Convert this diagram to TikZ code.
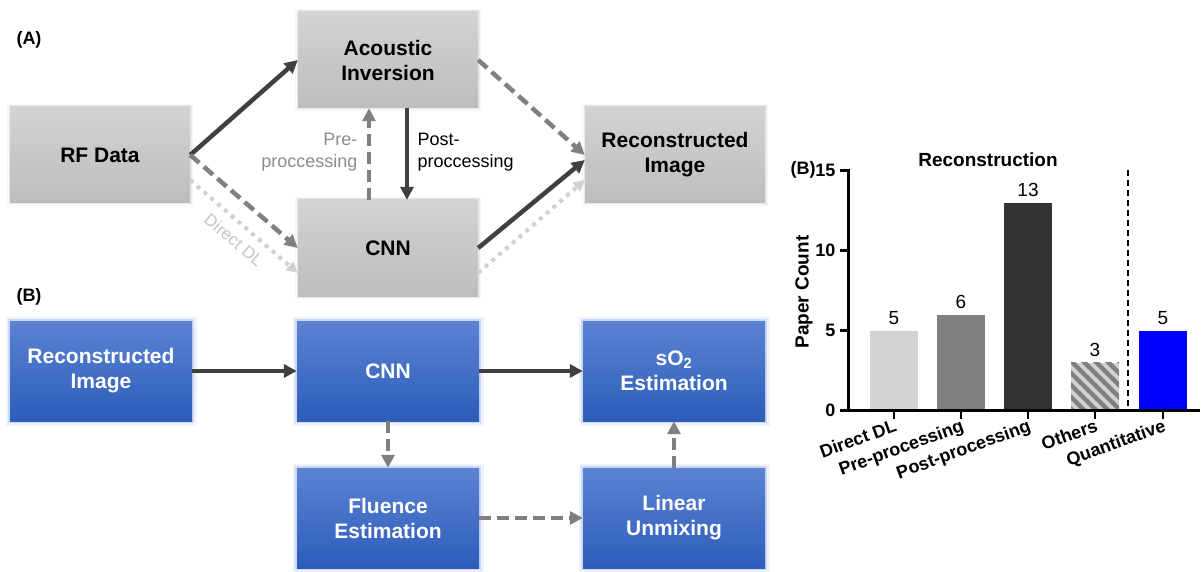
\documentclass[tikz,border=0pt]{standalone}
\usepackage{fontspec}
\setmainfont{Liberation Sans}
\usetikzlibrary{arrows.meta}

\definecolor{boxtop}{HTML}{D3D3D3}
\definecolor{boxbot}{HTML}{BDBDBD}
\definecolor{boxglow}{HTML}{CACACA}
\definecolor{bluetop}{HTML}{5B83D3}
\definecolor{bluebot}{HTML}{2C5CBA}
\definecolor{blueglow}{HTML}{8FAAE2}
\definecolor{arrdark}{HTML}{404040}
\definecolor{arrgray}{HTML}{808080}
\definecolor{dotgray}{HTML}{D0D0D0}
\definecolor{lblgray}{HTML}{8C8C8C}
\definecolor{barlight}{HTML}{D3D3D3}
\definecolor{barmid}{HTML}{808080}
\definecolor{bardark}{HTML}{333333}
\definecolor{barblue}{HTML}{0000FF}

\begin{document}
\begin{tikzpicture}[x=1pt,y=-1pt,
  graybox/.style={rectangle, minimum width=180pt, minimum height=96pt, inner sep=0pt,
    align=center, top color=boxtop, bottom color=boxbot,
    preaction={draw=boxglow, line width=6pt, draw opacity=0.15},
    preaction={draw=boxglow, line width=3pt, draw opacity=0.3},
    font=\fontsize{21}{25}\selectfont\bfseries},
  bluebox/.style={rectangle, minimum width=182pt, minimum height=100pt, inner sep=0pt,
    align=center, top color=bluetop, bottom color=bluebot, text=white,
    preaction={draw=blueglow, line width=9pt, draw opacity=0.15},
    preaction={draw=blueglow, line width=4pt, draw opacity=0.35},
    font=\fontsize{21}{25}\selectfont\bfseries},
  solidarr/.style={draw=arrdark, line width=4.5pt, -{Triangle[length=13pt,width=13pt]}},
  dasharr/.style={draw=arrgray, line width=4.5pt, dash pattern=on 12pt off 6pt,
    -{Triangle[length=13pt,width=13pt]}},
  dotarr/.style={draw=dotgray, line width=4pt, dash pattern=on 4pt off 5pt,
    -{Triangle[length=11pt,width=11pt]}},
  panel/.style={font=\fontsize{18}{21}\selectfont\bfseries},
  note/.style={font=\fontsize{18}{22}\selectfont},
  ticklbl/.style={font=\fontsize{18}{21}\selectfont\bfseries},
  vallbl/.style={font=\fontsize{19}{21}\selectfont, anchor=south},
  catlbl/.style={font=\fontsize{18}{21}\selectfont\bfseries, rotate=20, anchor=north east, inner sep=1pt},
]
\useasboundingbox (0,0) rectangle (1202,572);

% ---------- (A) reconstruction pipeline ----------
\node[panel] (lblA) at (29,40) {(A)};
\node[graybox] (rf)   at (100,155) {RF Data};
\node[graybox] (ai)   at (388,60)  {Acoustic\\Inversion};
\node[graybox] (cnnA) at (388,248) {CNN};
\node[graybox] (rec)  at (675,155) {Reconstructed\\Image};

\draw[dotarr]   ([yshift=-25pt]rf.east) -- ([yshift=-25pt]cnnA.west);
\draw[dotarr]   ([yshift=-25pt]cnnA.east) -- ([yshift=-25pt]rec.west);
\draw[solidarr] (rf.east) -- (ai.west);
\draw[dasharr]  (rf.east) -- (cnnA.west);
\draw[dasharr]  ([xshift=-19pt]cnnA.north) -- ([xshift=-19pt]ai.south);
\draw[solidarr] ([xshift=19pt]ai.south) -- ([xshift=19pt]cnnA.north);
\draw[dasharr]  (ai.east) -- (rec.west);
\draw[solidarr] (cnnA.east) -- ([yshift=-5pt]rec.west);

\node[note, text=lblgray, align=right, anchor=east] (pre) at (361,152) {Pre-\\proccessing};
\node[note, align=left, anchor=west] (post) at (414,152) {Post-\\proccessing};
\node[text=dotgray!85!gray, rotate=-40, font=\fontsize{17}{20}\selectfont] (ddl) at (234,240) {Direct DL};

% ---------- (B) quantitative pipeline ----------
\node[panel] (lblB) at (29,297) {(B)};
\node[bluebox] (recB) at (101,371) {Reconstructed\\Image};
\node[bluebox] (cnnB) at (388,371) {CNN};
\node[bluebox] (so2)  at (674,371) {sO\textsubscript{2}\\Estimation};
\node[bluebox] (flu)  at (388,518) {Fluence\\Estimation};
\node[bluebox] (lin)  at (674,518) {Linear\\Unmixing};

\draw[solidarr] (recB.east) -- (cnnB.west);
\draw[solidarr] (cnnB.east) -- (so2.west);
\draw[dasharr]  (cnnB.south) -- (flu.north);
\draw[dasharr]  (flu.east) -- (lin.west);
\draw[dasharr]  (lin.north) -- (so2.south);

% ---------- bar chart: paper count per category ----------
% baseline at y=410.7, 16 units per paper
\node[panel] (lblC) at (803,170) {(B)};
\node[font=\fontsize{19}{22}\selectfont\bfseries] (title) at (988,160) {Reconstruction};
\node[font=\fontsize{19}{22}\selectfont\bfseries, rotate=90] (ylab) at (804,292) {Paper Count};

% bars
\fill[barlight] (870,410.7) rectangle (918,330.7);
\fill[barmid]   (937,410.7) rectangle (985,314.7);
\fill[bardark]  (1004,410.7) rectangle (1052,202.7);
\begin{scope}
  \clip (1071,410.7) rectangle (1119,362.7);
  \fill[barlight] (1071,410.7) rectangle (1119,362.7);
  \foreach \s in {1000,1012,...,1130}
    \draw[barmid, line width=4.5pt] (\s,350) -- ++(70,70);
\end{scope}
\fill[barblue]  (1139,410.7) rectangle (1187,330.7);

\node[vallbl] (v1) at (894,328) {5};
\node[vallbl] (v2) at (961,312) {6};
\node[vallbl] (v3) at (1028,200) {13};
\node[vallbl] (v4) at (1095,360) {3};
\node[vallbl] (v5) at (1163,328) {5};

% separator
\draw[black, line width=2.5pt, dash pattern=on 6pt off 4pt] (1128,170) -- (1128,410);

% axes
\draw[black, line width=3pt] (848,169.5) -- (848,410.7) -- (1200,410.7);
\foreach \v/\lab in {0/0,5/5,10/10,15/15}{
  \draw[black, line width=2.5pt] (840,410.7-16*\v) -- (848,410.7-16*\v);
  \node[ticklbl, anchor=east] at (839,410.7-16*\v) {\lab};
}
\foreach \x in {894,961,1028,1095,1163}
  \draw[black, line width=2.5pt] (\x,410.7) -- (\x,419);

\node[catlbl] (c1) at (894,417) {Direct DL};
\node[catlbl] (c2) at (961,417) {Pre-processing};
\node[catlbl] (c3) at (1028,417) {Post-processing};
\node[catlbl] (c4) at (1095,417) {Others};
\node[catlbl] (c5) at (1163,417) {Quantitative};
\end{tikzpicture}
\end{document}
